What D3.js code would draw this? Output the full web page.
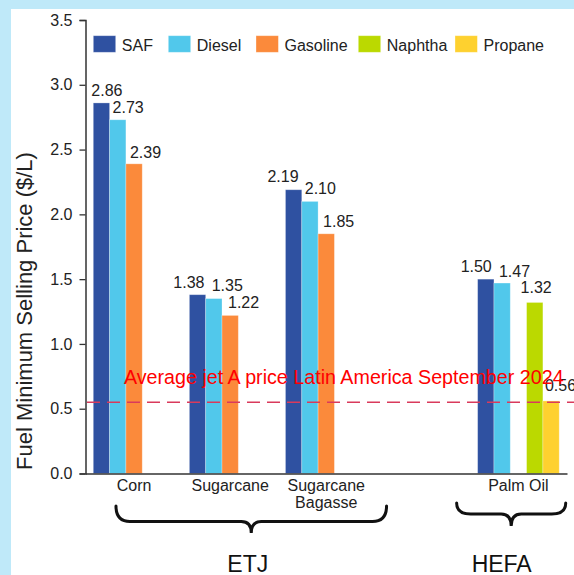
<!DOCTYPE html>
<html>
<head>
<meta charset="utf-8">
<script src="https://cdn.jsdelivr.net/npm/d3@7"></script>
<style>
  html, body { margin: 0; padding: 0; background: #bfe9f9; }
  svg { display: block; font-family: "Liberation Sans", Arial, sans-serif; }
</style>
</head>
<body>
<svg id="chart" width="574" height="575"></svg>
<script>
// ---------------- DATA ----------------
const categories = ["Corn", "Sugarcane", "Sugarcane Bagasse", "Palm Oil"];
const categoryLines = [["Corn"], ["Sugarcane"], ["Sugarcane", "Bagasse"], ["Palm Oil"]];
const seriesNames = ["SAF", "Diesel", "Gasoline", "Naphtha", "Propane"];
const safValues      = [2.86, 1.38, 2.19, 1.50];
const dieselValues   = [2.73, 1.35, 2.10, 1.47];
const gasolineValues = [2.39, 1.22, 1.85, null];
const naphthaValues  = [null, null, null, 1.32];
const propaneValues  = [null, null, null, 0.56];
const yTicks = [0, 0.5, 1.0, 1.5, 2.0, 2.5, 3.0, 3.5];
const refValue = 0.55;
const refLabel = "Average jet A price Latin America September 2024";
const yTitle = "Fuel Minimum Selling Price ($/L)";
const groupNames = ["ETJ", "HEFA"];
const groupMembers = [[0, 1, 2], [3]];

// ---------------- STYLE / LAYOUT ----------------
const colors = ["#2f51a1", "#51c8eb", "#fb8a3b", "#bbd900", "#fed12f"];
const seriesValues = [safValues, dieselValues, gasolineValues, naphthaValues, propaneValues];
// manual label nudges (relative to bar left), per category per series
const labelDx = [
  [-2, 3, 4, 0, 0],
  [-16, 6, 6, 0, 0],
  [-18, 3, 5, 0, 0],
  [-17, 5, 0, -6, 2]
];
const labelDy = [
  [-6.5, -6.5, -6, 0, 0],
  [-6.5, -8, -7.5, 0, 0],
  [-7.5, -7.5, -7, 0, 0],
  [-7.5, -6.5, 0, -9, -9.5]
];
const legendX = [93.3, 168.3, 256, 358.3, 455];

const svg = d3.select("#chart");
svg.append("rect").attr("x", 11).attr("y", 9).attr("width", 574).attr("height", 575).attr("fill", "#fff");

const domain = ["Corn", "Sugarcane", "Sugarcane Bagasse", "__gap__", "Palm Oil"];
const x0 = d3.scaleBand().domain(domain).range([85.5, 567]).paddingInner(0.151).paddingOuter(0.081);
const x1 = d3.scaleBand().domain(seriesNames).range([0, x0.bandwidth()]).padding(0);
const y = d3.scaleLinear().domain([0, 3.5]).range([473.5, 20]);

// bars
categories.forEach((cat, ci) => {
  seriesNames.forEach((s, si) => {
    const v = seriesValues[si][ci];
    if (v == null) return;
    const bx = x0(cat) + x1(s);
    svg.append("rect")
      .attr("x", bx).attr("y", y(v))
      .attr("width", x1.bandwidth()).attr("height", y(0) - y(v))
      .attr("fill", colors[si])
      .attr("stroke", "#ffffff").attr("stroke-opacity", 0.35).attr("stroke-width", 0.8);
    svg.append("text")
      .attr("x", bx + labelDx[ci][si]).attr("y", y(v) + labelDy[ci][si])
      .attr("font-size", 16).attr("fill", "#222")
      .text(d3.format(".2f")(v));
  });
});

// y axis
const yAxis = d3.axisLeft(y).tickValues(yTicks).tickFormat(d3.format(".1f")).tickSizeOuter(0).tickSize(6).tickPadding(7);
const ga = svg.append("g").attr("transform", "translate(85.5,0)").call(yAxis);
ga.select(".domain").attr("stroke", "#333").attr("stroke-width", 1.5);
ga.selectAll(".tick line").attr("stroke", "#333").attr("stroke-width", 1.3);
ga.selectAll(".tick text").attr("font-size", 16).attr("fill", "#222").attr("font-family", "Liberation Sans, Arial, sans-serif");

// x axis line
const xAxis = d3.axisBottom(x0).tickSize(0).tickFormat("").tickSizeOuter(0);
const gx = svg.append("g").attr("transform", `translate(0,${y(0)})`).call(xAxis);
gx.select(".domain").attr("stroke", "#333").attr("stroke-width", 1.5);
gx.selectAll(".tick").remove();

// category labels
categories.forEach((cat, ci) => {
  const cx = x0(cat) + x0.bandwidth() / 2;
  const t = svg.append("text").attr("text-anchor", "middle").attr("font-size", 16).attr("fill", "#222");
  categoryLines[ci].forEach((ln, li) => {
    t.append("tspan").attr("x", cx).attr("y", 490.5 + li * 17).text(ln);
  });
});

// reference line
svg.append("line")
  .attr("x1", 87).attr("x2", 574).attr("y1", y(refValue)).attr("y2", y(refValue))
  .attr("stroke", "#d93a5c").attr("stroke-width", 1.5).attr("stroke-dasharray", "13,7");
svg.append("text").attr("x", 124).attr("y", 384).attr("font-size", 19.7).attr("fill", "#ff0000").text(refLabel);

// legend
seriesNames.forEach((s, i) => {
  svg.append("rect").attr("x", legendX[i]).attr("y", 35.7).attr("width", 22.4).attr("height", 16.6)
    .attr("fill", colors[i]).attr("stroke", "#ffffff").attr("stroke-opacity", 0.4).attr("stroke-width", 0.8);
  svg.append("text").attr("x", legendX[i] + 28.5).attr("y", 50.5).attr("font-size", 16).attr("fill", "#222").text(s);
});

// y title
svg.append("text")
  .attr("transform", "translate(32,311) rotate(-90)")
  .attr("text-anchor", "middle").attr("font-size", 22).attr("fill", "#222")
  .text(yTitle);

// braces
function bracePath(xa, xb, yTop, yH, yTip) {
  const mid = (xa + xb) / 2;
  const r = 14, r2 = 10;
  return `M${xa},${yTop} Q${xa},${yH} ${xa + r},${yH} L${mid - r2},${yH} Q${mid},${yH} ${mid},${yTip} ` +
         `Q${mid},${yH} ${mid + r2},${yH} L${xb - r},${yH} Q${xb},${yH} ${xb},${yTop}`;
}
const braceSpec = [
  { padL: 22.7, padR: 19.5, yTop: 506, yH: 521.5, yTip: 533, labelDx: -3.5 },
  { padL: 21, padR: -1.5, yTop: 503, yH: 514, yTip: 526, labelDx: -9.5 }
];
groupNames.forEach((g, gi) => {
  const first = categories[groupMembers[gi][0]];
  const last = categories[groupMembers[gi][groupMembers[gi].length - 1]];
  const sp = braceSpec[gi];
  const xa = x0(first) + (gi === 0 ? sp.padL : x1("SAF") - sp.padL);
  const xb = x0(last) + x0.bandwidth() + sp.padR + (gi === 1 ? 8 : 0);
  svg.append("path").attr("d", bracePath(xa, xb, sp.yTop, sp.yH, sp.yTip))
    .attr("fill", "none").attr("stroke", "#111").attr("stroke-width", 3).attr("stroke-linecap", "round");
  svg.append("text").attr("x", (xa + xb) / 2 + sp.labelDx).attr("y", 571.5)
    .attr("text-anchor", "middle").attr("font-size", 23).attr("fill", "#111").text(g);
});
</script>
</body>
</html>
